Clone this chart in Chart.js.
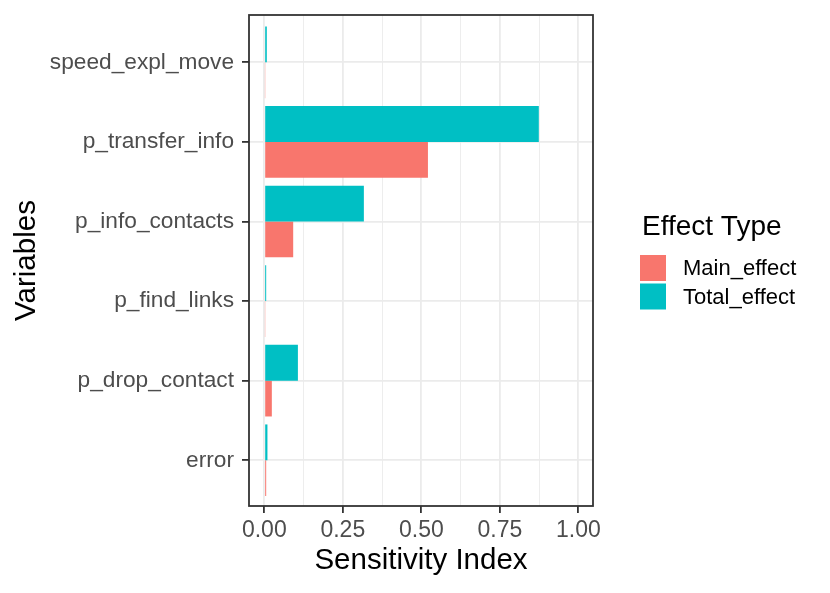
<!DOCTYPE html>
<html>
<head>
<meta charset="utf-8">
<script src="https://cdn.jsdelivr.net/npm/chart.js@4.4.1/dist/chart.umd.min.js"></script>
<style>
  html, body { margin: 0; padding: 0; background: #fff; }
  #wrap { width: 830px; height: 593px; }
</style>
</head>
<body>
<div id="wrap"><canvas id="chart" width="830" height="593"></canvas></div>
<script>
// Variables listed bottom to top, like the ggplot factor order
const variables = ['error', 'p_drop_contact', 'p_find_links', 'p_info_contacts', 'p_transfer_info', 'speed_expl_move'];
const mainEffect = [0.006, 0.024, 0.002, 0.092, 0.521, 0.002];
const totalEffect = [0.010, 0.107, 0.006, 0.317, 0.874, 0.008];

const seriesNames = ['Main_effect', 'Total_effect'];
const seriesColors = ['#F8766D', '#00BFC4'];

const xMajorTicks = [0, 0.25, 0.5, 0.75, 1];
const xMinorTicks = [0.125, 0.375, 0.625, 0.875];

const FONT = "'Liberation Sans', Arial, Helvetica, sans-serif";
const GRID = '#EBEBEB';
const DARK = '#333333';

// Panel border drawn on top of bars, like theme_bw
const panelBorder = {
    id: 'panelBorder',
    afterDatasetsDraw(chart) {
        const { ctx, chartArea: a } = chart;
        ctx.save();
        ctx.strokeStyle = DARK;
        ctx.lineWidth = 1.8;
        ctx.strokeRect(a.left, a.top, a.right - a.left, a.bottom - a.top);
        ctx.restore();
    }
};

// ggplot-style legend on the right (Main_effect first)
const sideLegend = {
    id: 'sideLegend',
    afterDraw(chart) {
        const { ctx, chartArea: a } = chart;
        const x0 = a.right + 47;
        const mid = (a.top + a.bottom) / 2;
        const keyTop = mid - 5.5;
        const keySize = 26;
        const keyStep = 28.5;

        ctx.save();
        ctx.fillStyle = '#000';
        ctx.font = `28px ${FONT}`;
        ctx.textAlign = 'left';
        ctx.textBaseline = 'alphabetic';
        ctx.fillText('Effect Type', x0 + 2, keyTop - 20);

        ctx.font = `22px ${FONT}`;
        ctx.textBaseline = 'middle';
        seriesNames.forEach((name, i) => {
            const y = keyTop + i * keyStep;
            ctx.fillStyle = seriesColors[i];
            ctx.fillRect(x0, y, keySize, keySize);
            ctx.fillStyle = '#000';
            ctx.fillText(name, x0 + 43, y + keySize / 2 + 1);
        });
        ctx.restore();
    }
};

const ctx = document.getElementById('chart').getContext('2d');

new Chart(ctx, {
    type: 'bar',
    data: {
        datasets: [
            {
                // first dataset sits on top inside each group
                label: seriesNames[1],
                data: totalEffect.map((v, i) => ({ x: v, y: i })),
                backgroundColor: seriesColors[1],
                borderWidth: 0
            },
            {
                label: seriesNames[0],
                data: mainEffect.map((v, i) => ({ x: v, y: i })),
                backgroundColor: seriesColors[0],
                borderWidth: 0
            }
        ]
    },
    plugins: [panelBorder, sideLegend],
    options: {
        indexAxis: 'y',
        responsive: false,
        animation: false,
        categoryPercentage: 0.9,
        barPercentage: 1.0,
        layout: {
            padding: { top: 15, right: 237, bottom: 0, left: 0 }
        },
        plugins: {
            legend: { display: false },
            tooltip: { enabled: false }
        },
        scales: {
            x: {
                type: 'linear',
                min: -0.0487,
                max: 1.0465,
                afterBuildTicks: scale => {
                    scale.ticks = xMajorTicks.concat(xMinorTicks)
                        .sort((a, b) => a - b)
                        .map(v => ({ value: v }));
                },
                afterFit: scale => {
                    scale.height = 87;
                    scale.paddingLeft = 0;
                    scale.paddingRight = 0;
                },
                grid: {
                    color: GRID,
                    lineWidth: c => xMajorTicks.includes(c.tick.value) ? 1.8 : 0.9,
                    drawTicks: true,
                    tickLength: 7,
                    tickWidth: 1.8,
                    tickColor: c => xMajorTicks.includes(c.tick.value) ? DARK : 'rgba(0,0,0,0)'
                },
                border: { display: false },
                ticks: {
                    autoSkip: false,
                    maxRotation: 0,
                    padding: 4,
                    color: '#4D4D4D',
                    font: { family: FONT, size: 23 },
                    callback: v => xMajorTicks.includes(v) ? v.toFixed(2) : ''
                },
                title: {
                    display: true,
                    text: 'Sensitivity Index',
                    color: '#000',
                    font: { family: FONT, size: 29.5 },
                    padding: { top: 0, bottom: 14 }
                }
            },
            y: {
                type: 'linear',
                offset: false,
                min: -0.575,
                max: 5.595,
                afterBuildTicks: scale => {
                    scale.ticks = variables.map((_, i) => ({ value: i }));
                },
                afterFit: scale => {
                    scale.width = 249;
                    scale.paddingTop = 0;
                    scale.paddingBottom = 0;
                },
                grid: {
                    offset: false,
                    color: GRID,
                    lineWidth: 1.8,
                    drawTicks: true,
                    tickLength: 7,
                    tickWidth: 1.8,
                    tickColor: DARK
                },
                border: { display: false },
                ticks: {
                    autoSkip: false,
                    padding: 8,
                    color: '#4D4D4D',
                    font: { family: FONT, size: 22.7 },
                    callback: v => variables[v]
                },
                title: {
                    display: true,
                    text: 'Variables',
                    color: '#000',
                    font: { family: FONT, size: 29.5 },
                    padding: { top: 9, bottom: 0 }
                }
            }
        }
    }
});
</script>
</body>
</html>
